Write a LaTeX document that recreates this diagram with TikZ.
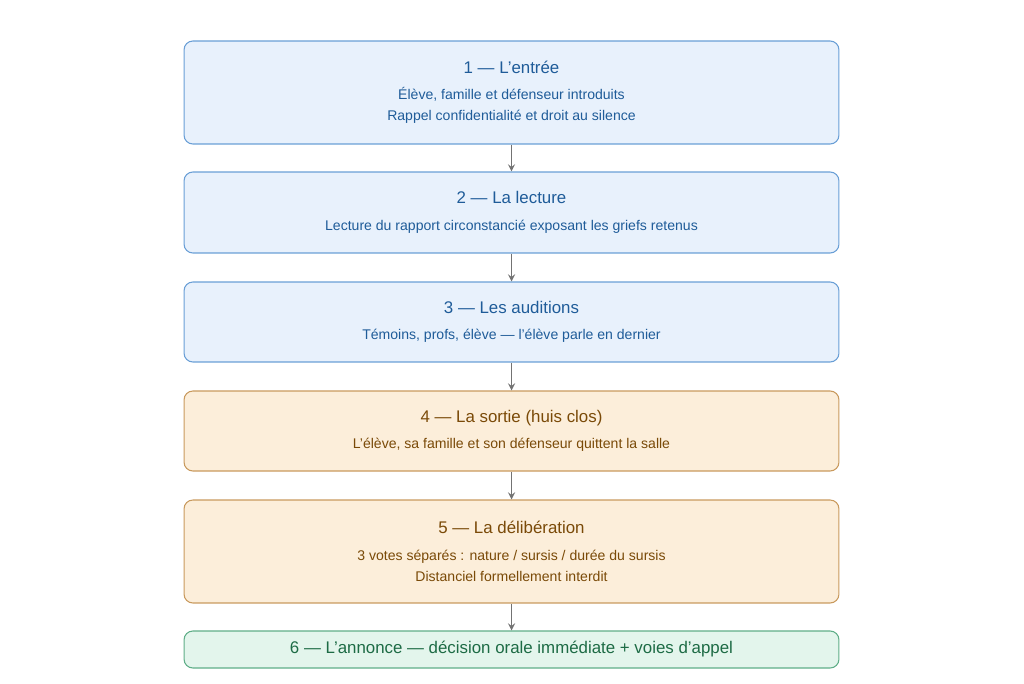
\documentclass[tikz,border=0pt]{standalone}
\usepackage{fontspec}
\setmainfont{Liberation Sans}
\usetikzlibrary{positioning}
\definecolor{bfill}{HTML}{E8F1FC}
\definecolor{bdraw}{HTML}{6A9FD6}
\definecolor{btext}{HTML}{1F5C99}
\definecolor{ofill}{HTML}{FCEEDA}
\definecolor{odraw}{HTML}{C99A5E}
\definecolor{otext}{HTML}{7A4A08}
\definecolor{gfill}{HTML}{E3F5EC}
\definecolor{gdraw}{HTML}{5FAE88}
\definecolor{gtext}{HTML}{1D6B45}
\tikzset{
  stage/.style={draw, rounded corners=5pt, line width=0.6pt, minimum width=13.1cm, align=center, inner sep=0pt},
  bluebox/.style={stage, fill=bfill, draw=bdraw, text=btext},
  orangebox/.style={stage, fill=ofill, draw=odraw, text=otext},
  greenbox/.style={stage, fill=gfill, draw=gdraw, text=gtext},
  flow/.style={->, >=stealth, draw=black!55, line width=0.8pt}
}
\newcommand{\ttl}[1]{{\fontsize{9.6}{12}\selectfont #1}}
\newcommand{\sub}[1]{{\fontsize{8}{13}\selectfont #1}}
\begin{document}
\begin{tikzpicture}[x=0.02cm, y=-0.02cm]
\useasboundingbox (0,0) rectangle (1024,683);
% stages
\node[bluebox, minimum height=2.06cm] (entree) at (511.5,92.5)
  {\ttl{1 — L'entrée}\\[3pt]\sub{Élève, famille et défenseur introduits}\\\sub{Rappel confidentialité et droit au silence}};
\node[bluebox, minimum height=1.62cm] (lecture) at (511.5,212.5)
  {\ttl{2 — La lecture}\\[3pt]\sub{Lecture du rapport circonstancié exposant les griefs retenus}};
\node[bluebox, minimum height=1.6cm] (auditions) at (511.5,322)
  {\ttl{3 — Les auditions}\\[3pt]\sub{Témoins, profs, élève — l'élève parle en dernier}};
\node[orangebox, minimum height=1.6cm] (sortie) at (511.5,431)
  {\ttl{4 — La sortie (huis clos)}\\[3pt]\sub{L'élève, sa famille et son défenseur quittent la salle}};
\node[orangebox, minimum height=2.06cm] (delib) at (511.5,551.5)
  {\ttl{5 — La délibération}\\[3pt]\sub{3 votes séparés : nature / sursis / durée du sursis}\\\sub{Distanciel formellement interdit}};
\node[greenbox, minimum height=0.74cm] (annonce) at (511.5,649.5)
  {\ttl{6 — L'annonce — décision orale immédiate + voies d'appel}};
% arrows
\draw[flow] (entree) -- (lecture);
\draw[flow] (lecture) -- (auditions);
\draw[flow] (auditions) -- (sortie);
\draw[flow] (sortie) -- (delib);
\draw[flow] (delib) -- (annonce);
\end{tikzpicture}
\end{document}
